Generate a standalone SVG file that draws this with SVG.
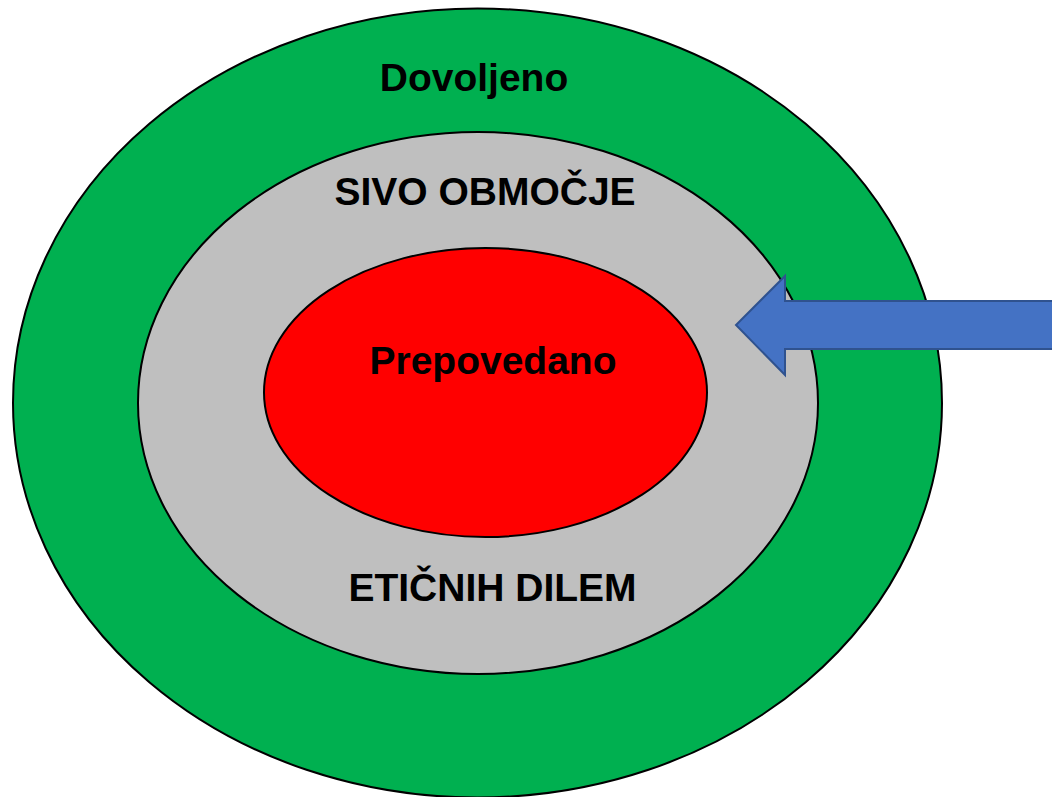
<svg xmlns="http://www.w3.org/2000/svg" width="1052" height="797" viewBox="0 0 1052 797">
<style>
.lbl{font-family:"Liberation Sans",Arial,sans-serif;font-weight:bold;font-size:39px;fill:#000;text-anchor:middle}
.ring{stroke:#000;stroke-width:2}
</style>
<rect width="1052" height="797" fill="#fff"/>
<g id="dovoljeno">
<ellipse class="ring" cx="477.5" cy="403" rx="464.5" ry="394.5" fill="#00B050"/>
<text class="lbl" x="474" y="91">Dovoljeno</text>
</g>
<g id="sivo">
<ellipse class="ring" cx="478" cy="403" rx="340" ry="271" fill="#BFBFBF"/>
<text class="lbl" x="485" y="205">SIVO OBMOČJE</text>
<text class="lbl" x="492.5" y="600.5">ETIČNIH DILEM</text>
</g>
<g id="prepovedano">
<ellipse class="ring" cx="485.5" cy="392.5" rx="221.5" ry="144.5" fill="#FF0000" stroke-width="1.5"/>
<text class="lbl" x="493" y="374">Prepovedano</text>
</g>
<g id="connectors">
<polygon points="1060,301 785,301 785,276 736,325 785,375 785,349 1060,349" fill="#4472C4" stroke="#2F528F" stroke-width="2"/>
</g>
</svg>
